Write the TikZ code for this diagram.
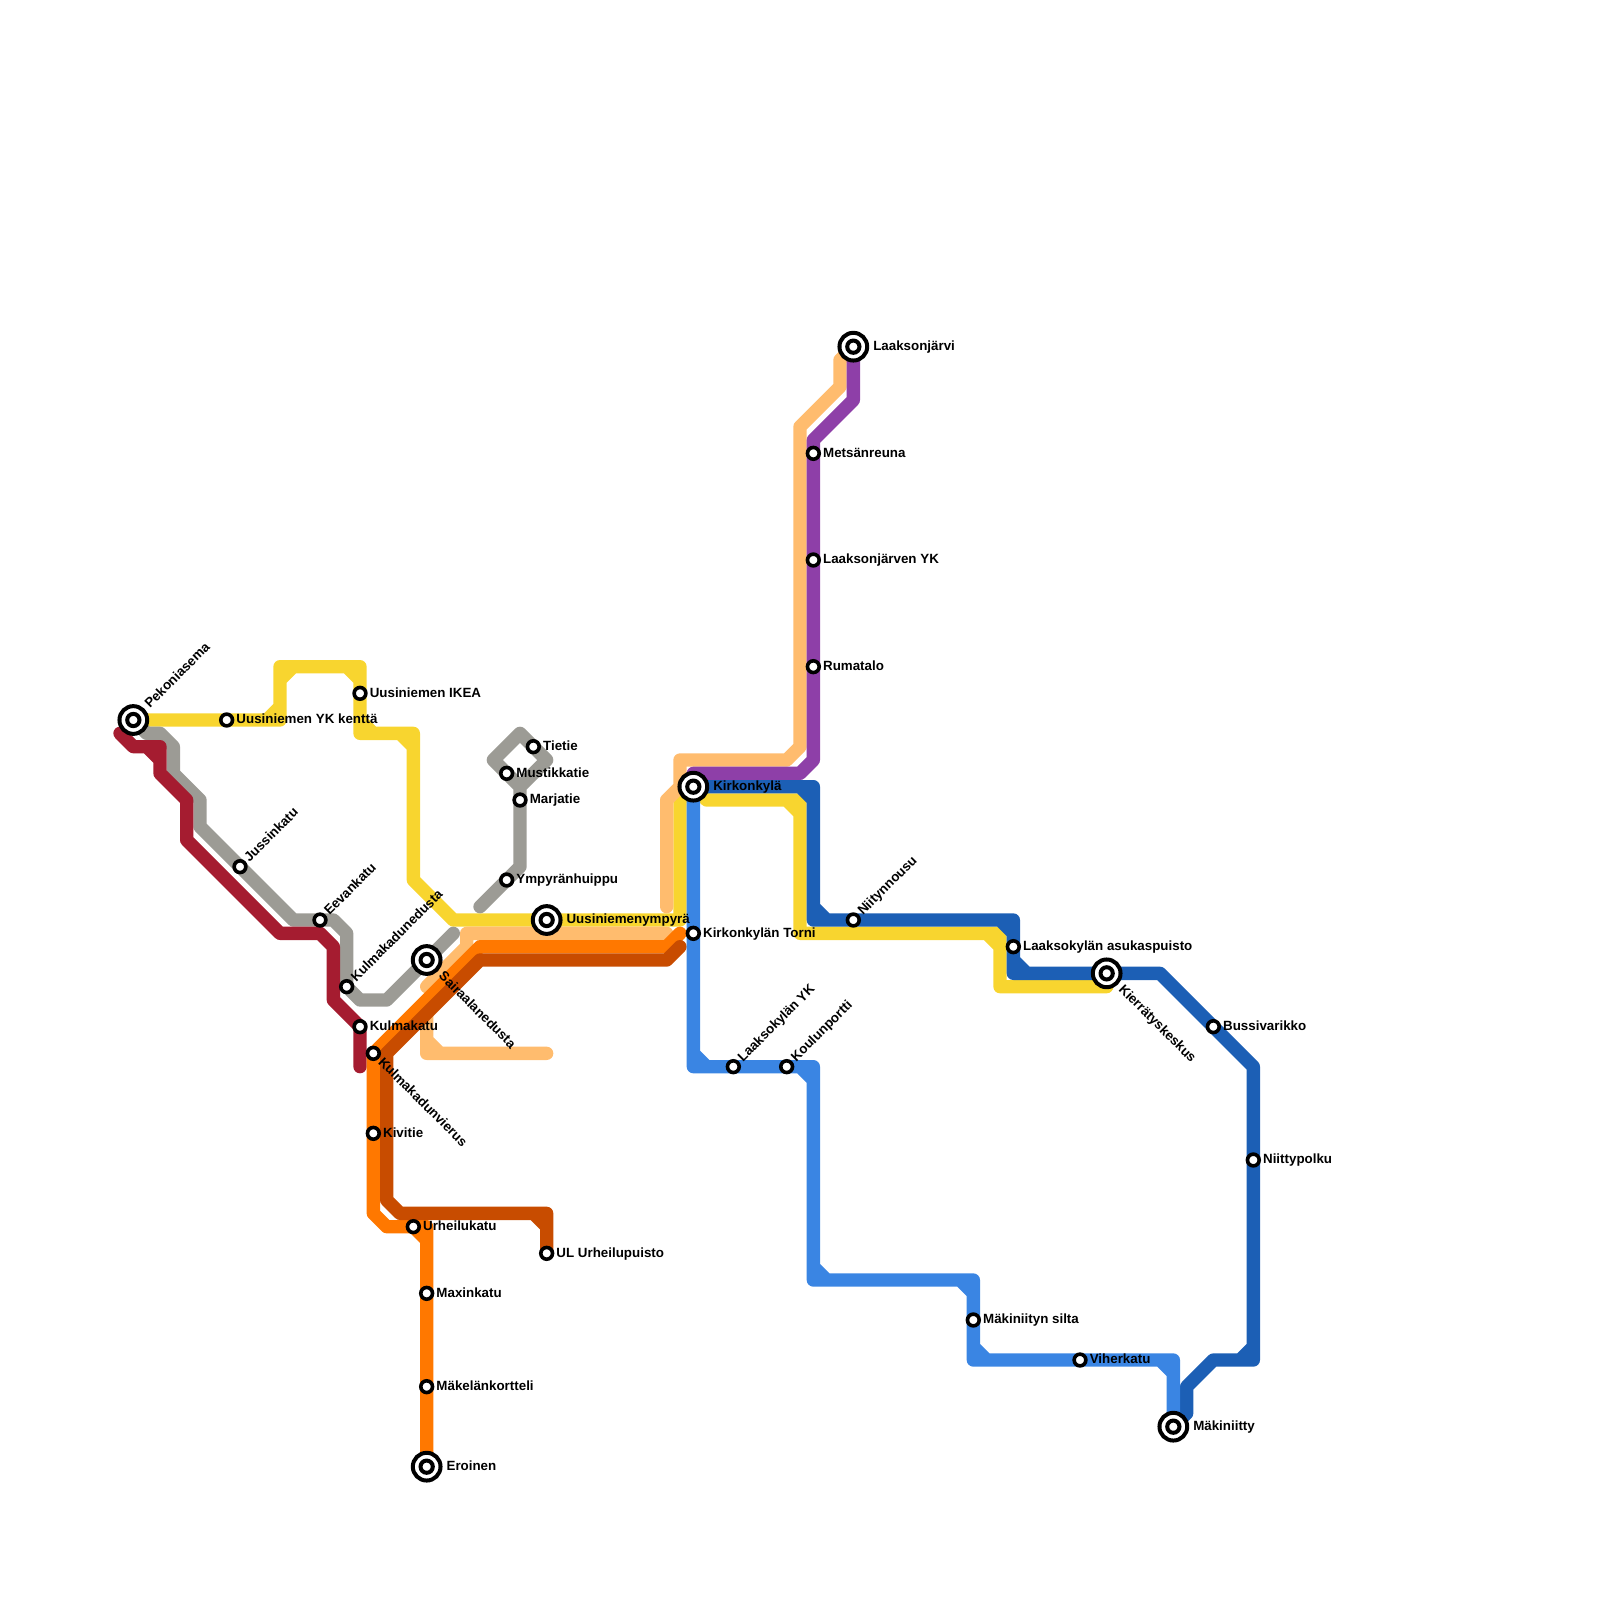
\documentclass[tikz,border=0pt]{standalone}
\usepackage{fontspec}
\setmainfont{Liberation Sans}
\usetikzlibrary{backgrounds}
\definecolor{lnyellow}{HTML}{F8D52F}
\definecolor{lnpeach}{HTML}{FFBC6E}
\definecolor{lngray}{HTML}{9C9B95}
\definecolor{lnred}{HTML}{A51C30}
\definecolor{lnorange}{HTML}{FF7800}
\definecolor{lnrust}{HTML}{C84C00}
\definecolor{lnpurple}{HTML}{8E3FA8}
\definecolor{lnnavy}{HTML}{1C5FB5}
\definecolor{lnsky}{HTML}{3A85E3}

\begin{document}
\begin{tikzpicture}[
  x=5mm, y=-5mm,
  metro/.style={line width=5mm, line cap=round, line join=round},
  stn/.style={circle, draw=black, fill=white, line width=1.35mm, minimum size=4.4mm, inner sep=0},
  hub/.style={circle, draw=black, fill=white, line width=1.5mm, minimum size=10.4mm, inner sep=0,
    path picture={\draw[line width=1.5mm] (path picture bounding box.center) circle (2.3mm);}},
  tag/.style={font=\fontsize{14.25}{16}\selectfont\bfseries, anchor=west, inner ysep=0, text height=10.3pt, text depth=2pt, inner xsep=3.6mm},
  tagne/.style={tag, rotate=45},
  tagse/.style={tag, rotate=-45},
  taghub/.style={inner xsep=7.4mm}
]
  \useasboundingbox (0,0) rectangle (120,120);

  % stations
  \node[hub] (pekoniasema) at (10,54) {};
  \node[stn] (uusiyk) at (17,54) {};
  \node[stn] (jussinkatu) at (18,65) {};
  \node[stn] (eevankatu) at (24,69) {};
  \node[stn] (kulmaedusta) at (26,74) {};
  \node[stn] (ikea) at (27,52) {};
  \node[stn] (kulmakatu) at (27,77) {};
  \node[stn] (kulmavierus) at (28,79) {};
  \node[stn] (kivitie) at (28,85) {};
  \node[stn] (urheilukatu) at (31,92) {};
  \node[stn] (maxinkatu) at (32,97) {};
  \node[stn] (makelan) at (32,104) {};
  \node[hub] (eroinen) at (32,110) {};
  \node[stn] (urheilupuisto) at (41,94) {};
  \node[hub] (sairaala) at (32,72) {};
  \node[stn] (tietie) at (40,56) {};
  \node[stn] (mustikkatie) at (38,58) {};
  \node[stn] (marjatie) at (39,60) {};
  \node[stn] (ympyranhuippu) at (38,66) {};
  \node[hub] (ympyra) at (41,69) {};
  \node[hub] (kirkonkyla) at (52,59) {};
  \node[stn] (torni) at (52,70) {};
  \node[stn] (laaksoyk) at (55,80) {};
  \node[stn] (koulunportti) at (59,80) {};
  \node[hub] (laaksonjarvi) at (64,26) {};
  \node[stn] (metsanreuna) at (61,34) {};
  \node[stn] (jarvenyk) at (61,42) {};
  \node[stn] (rumatalo) at (61,50) {};
  \node[stn] (niitynnousu) at (64,69) {};
  \node[stn] (asukaspuisto) at (76,71) {};
  \node[hub] (kierratys) at (83,73) {};
  \node[stn] (bussivarikko) at (91,77) {};
  \node[stn] (niittypolku) at (94,87) {};
  \node[stn] (silta) at (73,99) {};
  \node[stn] (viherkatu) at (81,102) {};
  \node[hub] (makiniitty) at (88,107) {};

  % names
  \node[tagne, taghub] (t1) at (pekoniasema) {Pekoniasema};
  \node[tag] (t2) at (uusiyk) {Uusiniemen YK kenttä};
  \node[tagne] (t3) at (jussinkatu) {Jussinkatu};
  \node[tagne] (t4) at (eevankatu) {Eevankatu};
  \node[tagne] (t5) at (kulmaedusta) {Kulmakadunedusta};
  \node[tag] (t6) at (ikea) {Uusiniemen IKEA};
  \node[tag] (t7) at (kulmakatu) {Kulmakatu};
  \node[tagse] (t8) at (kulmavierus) {Kulmakadunvierus};
  \node[tag] (t9) at (kivitie) {Kivitie};
  \node[tag] (t10) at (urheilukatu) {Urheilukatu};
  \node[tag] (t11) at (maxinkatu) {Maxinkatu};
  \node[tag] (t12) at (makelan) {Mäkelänkortteli};
  \node[tag, taghub] (t13) at (eroinen) {Eroinen};
  \node[tag] (t14) at (urheilupuisto) {UL Urheilupuisto};
  \node[tagse, taghub] (t15) at (sairaala) {Sairaalanedusta};
  \node[tag] (t16) at (tietie) {Tietie};
  \node[tag] (t17) at (mustikkatie) {Mustikkatie};
  \node[tag] (t18) at (marjatie) {Marjatie};
  \node[tag] (t19) at (ympyranhuippu) {Ympyränhuippu};
  \node[tag, taghub] (t20) at (ympyra) {Uusiniemenympyrä};
  \node[tag, taghub] (t21) at (kirkonkyla) {Kirkonkylä};
  \node[tag] (t22) at (torni) {Kirkonkylän Torni};
  \node[tagne] (t23) at (laaksoyk) {Laaksokylän YK};
  \node[tagne] (t24) at (koulunportti) {Koulunportti};
  \node[tag, taghub] (t25) at (laaksonjarvi) {Laaksonjärvi};
  \node[tag] (t26) at (metsanreuna) {Metsänreuna};
  \node[tag] (t27) at (jarvenyk) {Laaksonjärven YK};
  \node[tag] (t28) at (rumatalo) {Rumatalo};
  \node[tagne] (t29) at (niitynnousu) {Niitynnousu};
  \node[tag] (t30) at (asukaspuisto) {Laaksokylän asukaspuisto};
  \node[tagse, taghub] (t31) at (kierratys) {Kierrätyskeskus};
  \node[tag] (t32) at (bussivarikko) {Bussivarikko};
  \node[tag] (t33) at (niittypolku) {Niittypolku};
  \node[tag] (t34) at (silta) {Mäkiniityn silta};
  \node[tag] (t35) at (viherkatu) {Viherkatu};
  \node[tag, taghub] (t36) at (makiniitty) {Mäkiniitty};

  % lines, the short strokes after each main run fill the inner corners
  \begin{scope}[on background layer]
    \draw[metro, lnyellow] (pekoniasema.center) -- (uusiyk.center) -- (21,54) -- (21,50) -- (27,50) -- (ikea.center) -- (27,55) -- (31,55) -- (31,66) -- (34,69) -- (ympyra.center) -- (51,69) -- (51,60) -- (kirkonkyla.center) -- (53,60) -- (60,60) -- (60,70) -- (75,70) -- (75,74) -- (83,74)
      (20,54) -- (21,53) (21,51) -- (22,50) (26,50) -- (27,51) (27,54) -- (28,55) (30,55) -- (31,56) (59,60) -- (60,61) (74,70) -- (75,71);
    \draw[metro, lnpeach] (laaksonjarvi.center) -- (63,27) -- (63,29) -- (60,32) -- (60,56) -- (59,57) -- (51,57) -- (51,59) -- (50,60) -- (50,68)
      (50,70) -- (35,70) -- (35,71) -- (32,74)
      (32,76) -- (32,79) -- (41,79) (32,78) -- (33,79);
    \draw[metro, lngray] (pekoniasema.center) -- (11,55) -- (12,55) -- (13,56) -- (13,58) -- (15,60) -- (15,62) -- (jussinkatu.center) -- (22,69) -- (eevankatu.center) -- (25,69) -- (26,70) -- (kulmaedusta.center) -- (27,75) -- (29,75) -- (sairaala.center) -- (34,70);
    \draw[metro, lngray] (36,68) -- (ympyranhuippu.center) -- (39,65) -- (marjatie.center) -- (39,59) -- (41,57) -- (tietie.center) -- (39,55) -- (37,57) -- (mustikkatie.center) -- (39,59);
    \draw[metro, lnred] (9,55) -- (10,56) -- (12,56) -- (12,58) -- (14,60) -- (14,63) -- (21,70) -- (24,70) -- (25,71) -- (25,75) -- (kulmakatu.center) -- (27,80)
      (11,56) -- (12,57);
    \draw[metro, lnorange] (51,70) -- (50,71) -- (36,71) -- (kulmavierus.center) -- (kivitie.center) -- (28,91) -- (29,92) -- (urheilukatu.center) -- (32,92) -- (maxinkatu.center) -- (makelan.center) -- (eroinen.center)
      (31,92) -- (32,93);
    \draw[metro, lnrust] (51,71) -- (50,72) -- (36,72) -- (29,79) -- (29,90) -- (30,91) -- (41,91) -- (urheilupuisto.center)
      (40,91) -- (41,92);
    \draw[metro, lnpurple] (laaksonjarvi.center) -- (64,30) -- (61,33) -- (metsanreuna.center) -- (jarvenyk.center) -- (rumatalo.center) -- (61,57) -- (60,58) -- (52,58) -- (kirkonkyla.center);
    \draw[metro, lnnavy] (kirkonkyla.center) -- (61,59) -- (61,69) -- (niitynnousu.center) -- (76,69) -- (asukaspuisto.center) -- (76,73) -- (kierratys.center) -- (87,73) -- (bussivarikko.center) -- (94,80) -- (niittypolku.center) -- (94,102) -- (91,102) -- (89,104) -- (89,106) -- (makiniitty.center)
      (60,59) -- (61,60) (61,68) -- (62,69) (75,69) -- (76,70) (76,72) -- (77,73) (93,102) -- (94,101);
    \draw[metro, lnsky] (kirkonkyla.center) -- (torni.center) -- (52,80) -- (laaksoyk.center) -- (koulunportti.center) -- (61,80) -- (61,96) -- (73,96) -- (silta.center) -- (73,102) -- (viherkatu.center) -- (88,102) -- (makiniitty.center)
      (52,79) -- (53,80) (60,80) -- (61,81) (61,95) -- (62,96) (72,96) -- (73,97) (73,101) -- (74,102) (87,102) -- (88,103);
  \end{scope}
\end{tikzpicture}
\end{document}
